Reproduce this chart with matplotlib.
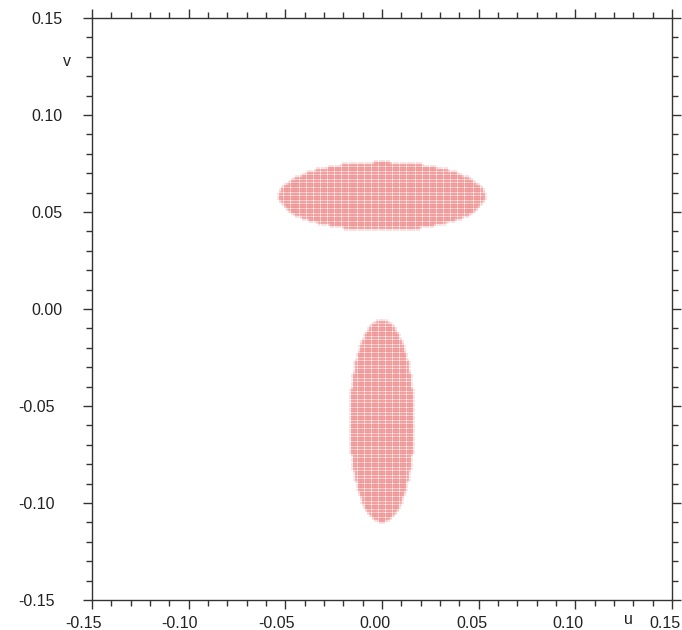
import numpy as np
import matplotlib.pyplot as plt
from matplotlib.ticker import MultipleLocator
from matplotlib.transforms import ScaledTranslation

plt.rcParams['font.family'] = ['Liberation Sans', 'DejaVu Sans']
plt.rcParams['axes.unicode_minus'] = False

# two elliptical regions sampled on a regular (u, v) grid
centers_u = [0.0, 0.0]
centers_v = [0.058, -0.058]
semi_u = [0.053, 0.0165]
semi_v = [0.0175, 0.052]
step_u = 0.0012
step_v = 0.00135

ticks = [-0.15, -0.10, -0.05, 0.00, 0.05, 0.10, 0.15]
tick_labels = ['-0.15', '-0.10', '-0.05', '0.00', '0.05', '0.10', '0.15']

fig = plt.figure(figsize=(6.82, 6.30), dpi=100)
ax = fig.add_axes([92 / 682, 30 / 630, 580 / 682, 582 / 630])

gu = np.arange(-0.15, 0.15 + step_u / 2, step_u)
gv = np.arange(-0.15, 0.15 + step_v / 2, step_v)
U, V = np.meshgrid(gu, gv)
for cu, cv, a, b in zip(centers_u, centers_v, semi_u, semi_v):
    inside = ((U - cu) / a) ** 2 + ((V - cv) / b) ** 2 <= 1.0
    ax.scatter(U[inside], V[inside], marker='+', s=18, linewidths=0.35,
               color='#ec8080')

ax.set_xlim(-0.15, 0.15)
ax.set_ylim(-0.15, 0.15)
ax.set_xticks(ticks)
ax.set_xticklabels(tick_labels)
ax.set_yticks(ticks)
ax.set_yticklabels(tick_labels)
ax.xaxis.set_minor_locator(MultipleLocator(0.01))
ax.yaxis.set_minor_locator(MultipleLocator(0.01))

ax.tick_params(which='both', direction='out', top=True, right=True,
               labeltop=False, labelright=False, color='#333333', width=1.0,
               labelsize=11.5, labelcolor='#222222')
ax.tick_params(which='major', length=6.5)
ax.tick_params(which='minor', length=4)
ax.tick_params(axis='x', which='major', pad=5)
ax.tick_params(axis='y', which='major', pad=15)
for s in ax.spines.values():
    s.set_color('#333333')
    s.set_linewidth(1.0)

# nudge labels the way the original renderer placed them
for lab in ax.get_xticklabels():
    dx = -9 if lab.get_text().startswith('-') else -7
    lab.set_transform(lab.get_transform() + ScaledTranslation(dx / 100, 0, fig.dpi_scale_trans))
for lab in ax.get_yticklabels():
    dx = -7 if lab.get_text().startswith('-') else 0
    lab.set_transform(lab.get_transform() + ScaledTranslation(dx / 100, 0, fig.dpi_scale_trans))

fig.text(67 / 682, 1 - 62 / 630, 'v', ha='center', va='center', fontsize=11.5, color='#222222')
fig.text(628 / 682, 1 - 620 / 630, 'u', ha='center', va='center', fontsize=11.5, color='#222222')

fig.savefig('out.png', dpi=100)
